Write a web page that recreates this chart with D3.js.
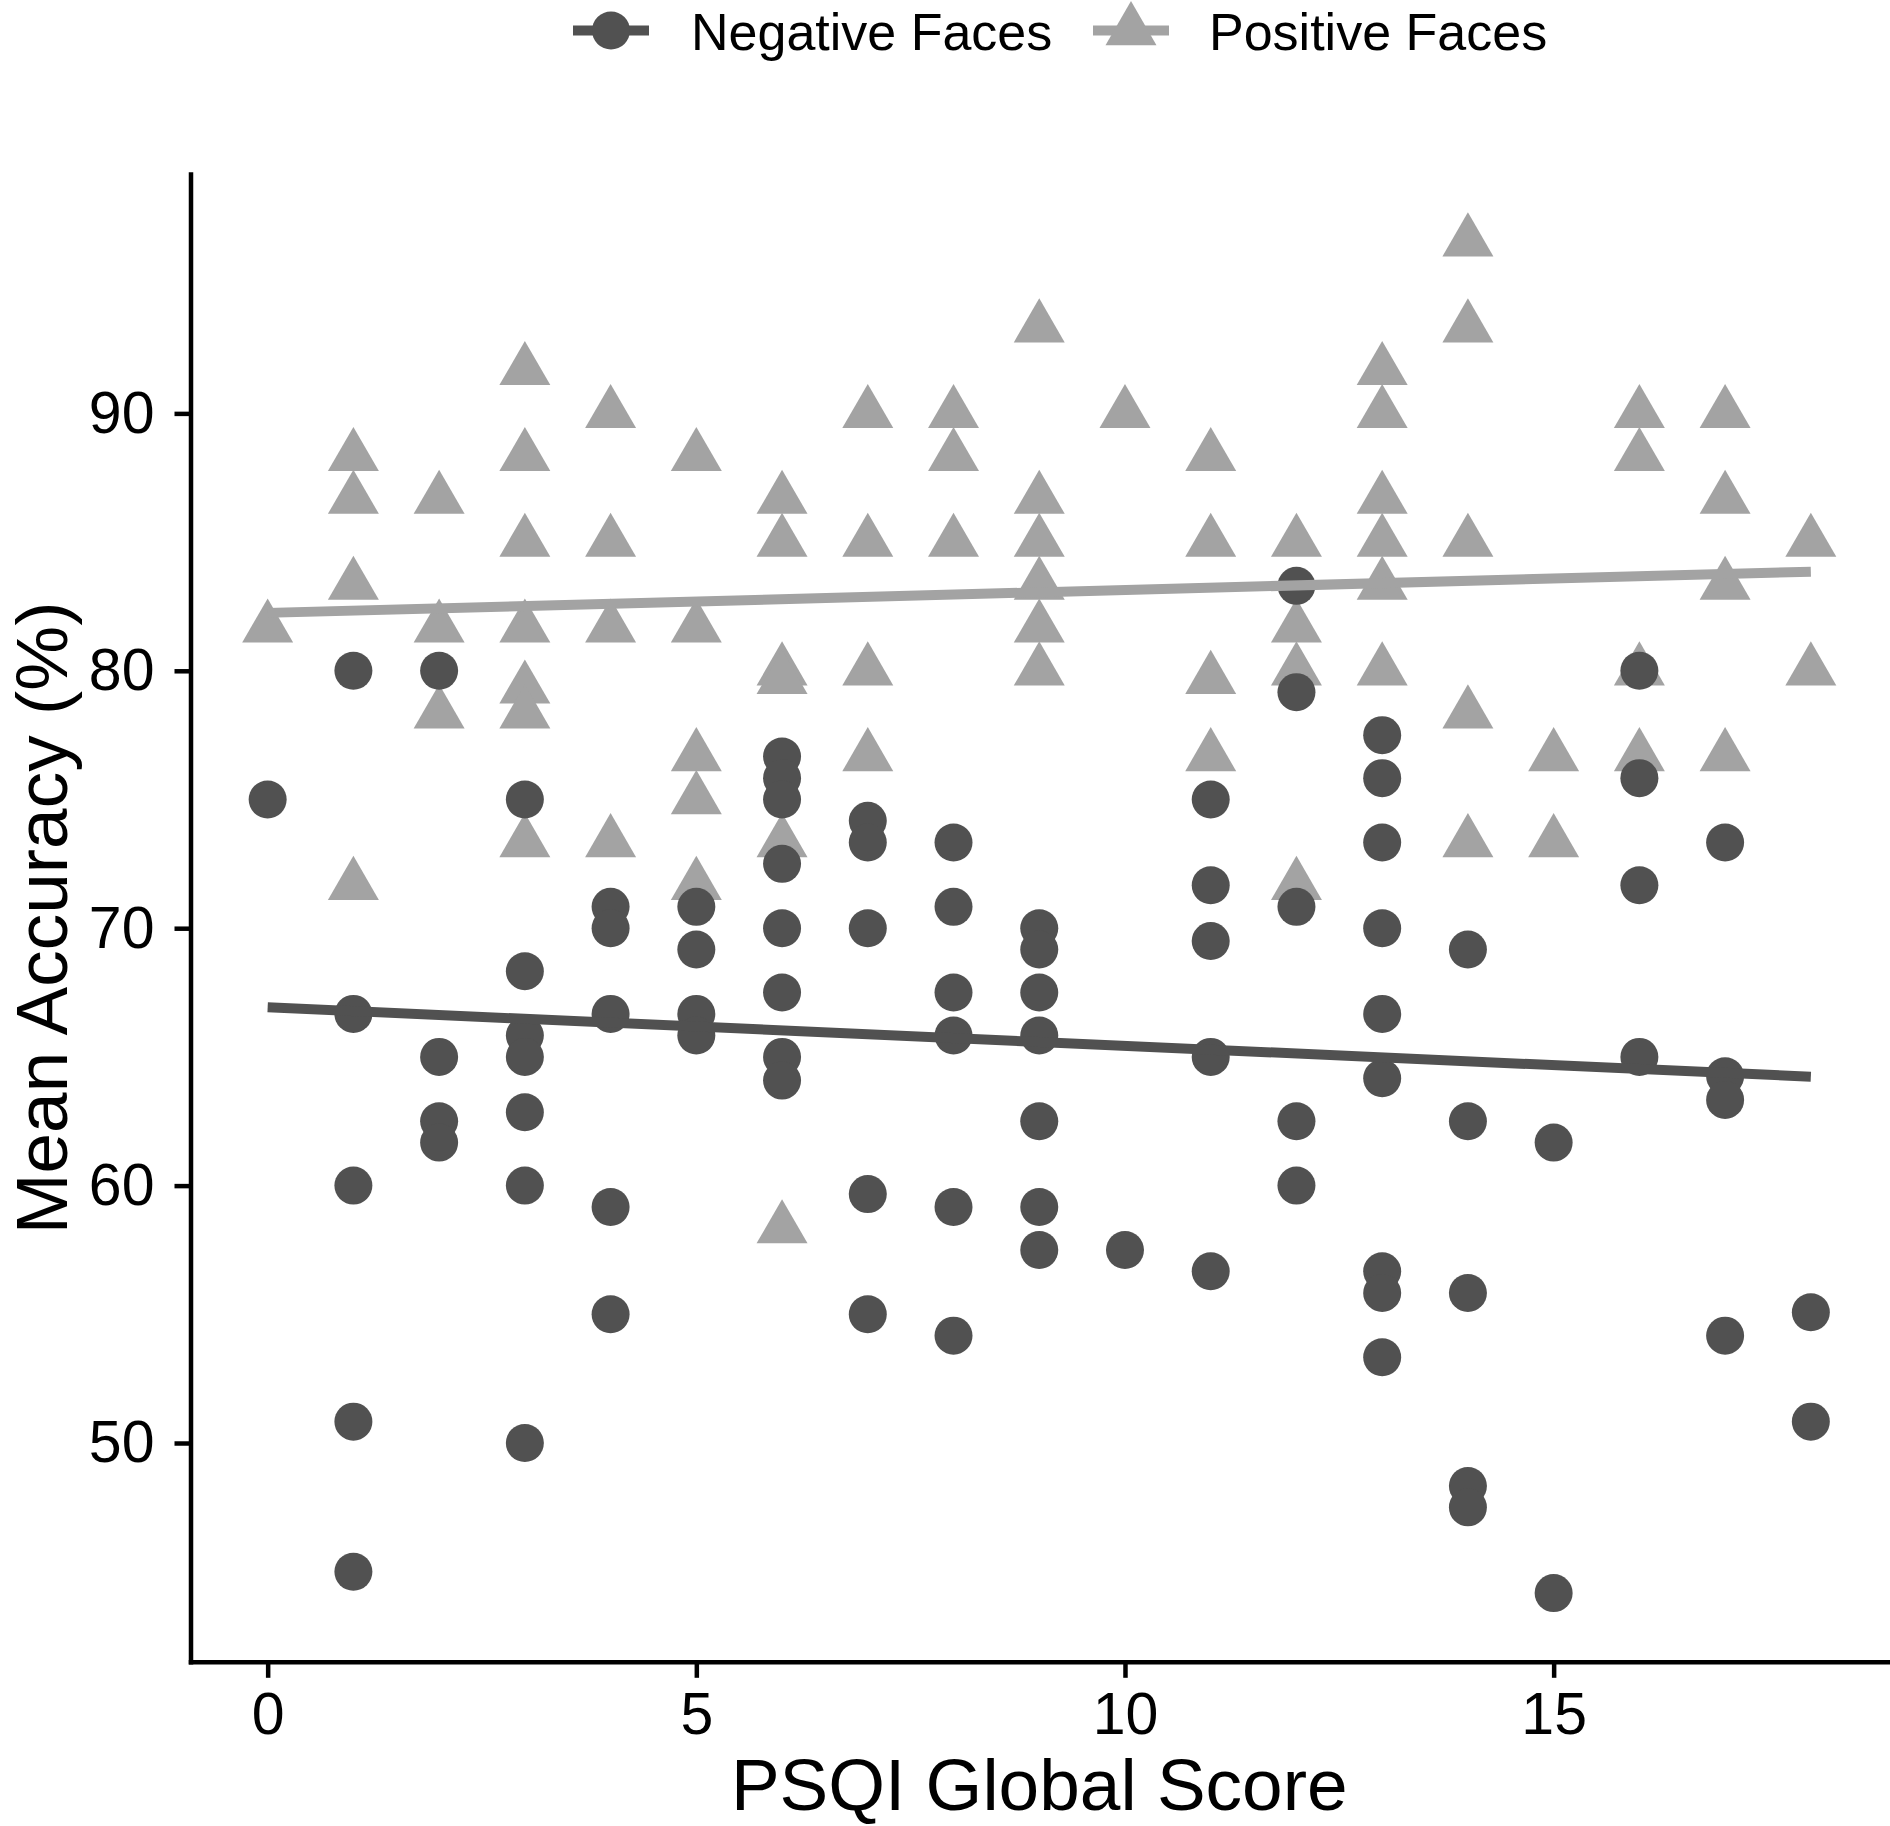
<!DOCTYPE html>
<html>
<head>
<meta charset="utf-8">
<script src="https://cdn.jsdelivr.net/npm/d3@7"></script>
<style>
  html, body { margin: 0; padding: 0; background: #ffffff; }
  svg { display: block; }
  text { font-family: "Liberation Sans", Arial, Helvetica, sans-serif; }
</style>
</head>
<body>
<svg id="chart" width="1890" height="1826"></svg>
<script>
// ---- Data ----
const seriesNames = ["Negative Faces", "Positive Faces"];

// Negative faces (circles): PSQI score and mean accuracy
const negScore = [
  0,
  1, 1, 1, 1, 1,
  2, 2, 2, 2,
  3, 3, 3, 3, 3, 3, 3,
  4, 4, 4, 4, 4,
  5, 5, 5, 5,
  6, 6, 6, 6, 6, 6, 6, 6,
  7, 7, 7, 7, 7,
  8, 8, 8, 8, 8, 8,
  9, 9, 9, 9, 9, 9, 9,
  10,
  11, 11, 11, 11, 11,
  12, 12, 12, 12, 12,
  13, 13, 13, 13, 13, 13, 13, 13, 13,
  14, 14, 14, 14, 14,
  15, 15,
  16, 16, 16, 16,
  17, 17, 17, 17,
  18, 18
];
const negAcc = [
  75,
  80, 66.67, 60, 50.83, 45,
  80, 65, 62.5, 61.67,
  75, 68.33, 65.83, 65, 62.85, 60, 50,
  70.83, 70, 66.67, 59.17, 55,
  70.83, 69.17, 66.67, 65.83,
  76.67, 75.83, 75, 72.5, 70, 67.5, 65, 64.08,
  74.17, 73.33, 70, 59.67, 55,
  73.33, 70.83, 67.5, 65.83, 59.17, 54.17,
  70, 69.17, 67.5, 65.83, 62.5, 59.17, 57.5,
  57.5,
  75, 71.67, 69.5, 65, 56.67,
  83.3, 79.17, 70.83, 62.5, 60,
  77.5, 75.83, 73.33, 70, 66.67, 64.17, 56.67, 55.83, 53.33,
  69.17, 62.5, 55.83, 48.33, 47.5,
  61.67, 44.17,
  80, 75.83, 71.67, 65,
  73.33, 64.25, 63.33, 54.17,
  55.08, 50.83
];

// Positive faces (triangles): PSQI score and mean accuracy
const posScore = [
  0,
  1, 1, 1, 1,
  2, 2, 2,
  3, 3, 3, 3, 3, 3, 3,
  4, 4, 4, 4,
  5, 5, 5, 5, 5,
  6, 6, 6, 6, 6, 6,
  7, 7, 7, 7,
  8, 8, 8,
  9, 9, 9, 9, 9, 9,
  10,
  11, 11, 11, 11,
  12, 12, 12, 12,
  13, 13, 13, 13, 13, 13,
  14, 14, 14, 14, 14,
  15, 15,
  16, 16, 16, 16,
  17, 17, 17, 17,
  18, 18
];
const posAcc = [
  81.67,
  88.33, 86.67, 83.33, 71.67,
  86.67, 81.67, 78.33,
  91.67, 88.33, 85, 81.67, 79.3, 78.33, 73.33,
  90, 85, 81.67, 73.33,
  88.33, 81.67, 76.67, 75, 71.67,
  86.67, 85, 80, 79.67, 73.33, 58.33,
  90, 85, 80, 76.67,
  90, 88.33, 85,
  93.33, 86.67, 85, 83.33, 81.67, 80,
  90,
  88.33, 85, 79.67, 76.67,
  85, 81.67, 80, 71.67,
  91.67, 90, 86.67, 85, 83.33, 80,
  96.67, 93.33, 85, 78.33, 73.33,
  76.67, 73.33,
  90, 88.33, 80, 76.67,
  90, 86.67, 83.33, 76.67,
  85, 80
];

// Fitted linear trend lines (endpoints)
const negFitX = [0, 18];
const negFitY = [66.93, 64.23];
const posFitX = [0, 18];
const posFitY = [82.25, 83.85];

// Axis ticks
const xTicks = [0, 5, 10, 15];
const yTicks = [50, 60, 70, 80, 90];

// ---- Styling ----
const darkCol = "#515151";
const lightCol = "#a3a3a3";
const fontTick = 59;
const fontTitle = 73;
const fontLegend = 52;

const svg = d3.select("#chart");

const x = d3.scaleLinear().domain([-0.9, 18.9]).range([190.5, 1888]);
const y = d3.scaleLinear().domain([41.5, 99.3]).range([1661.8, 174]);

const negData = negScore.map((s, i) => ({ x: s, y: negAcc[i] }));
const posData = posScore.map((s, i) => ({ x: s, y: posAcc[i] }));

const triSize = 1125;   // area for d3.symbolTriangle
const circR = 19;

// Triangles first (positive), then circles (negative)
svg.append("g").selectAll("path")
  .data(posData).join("path")
  .attr("transform", d => `translate(${x(d.x)},${y(d.y)})`)
  .attr("d", d3.symbol(d3.symbolTriangle, triSize)())
  .attr("fill", lightCol);

svg.append("g").selectAll("circle")
  .data(negData).join("circle")
  .attr("cx", d => x(d.x))
  .attr("cy", d => y(d.y))
  .attr("r", circR)
  .attr("fill", darkCol);

// Trend lines
const line = d3.line().x(d => x(d[0])).y(d => y(d[1]));
svg.append("path")
  .attr("d", line(posFitX.map((v, i) => [v, posFitY[i]])))
  .attr("stroke", lightCol).attr("stroke-width", 10).attr("fill", "none");
svg.append("path")
  .attr("d", line(negFitX.map((v, i) => [v, negFitY[i]])))
  .attr("stroke", darkCol).attr("stroke-width", 10).attr("fill", "none");

// Axes
const xAxis = d3.axisBottom(x).tickValues(xTicks).tickSize(16).tickSizeOuter(0).tickPadding(14);
const yAxis = d3.axisLeft(y).tickValues(yTicks).tickSize(16).tickSizeOuter(0).tickPadding(20);

const gx = svg.append("g").attr("transform", `translate(0,${y.range()[0]})`).call(xAxis);
const gy = svg.append("g").attr("transform", `translate(${x.range()[0]},0)`).call(yAxis);

[gx, gy].forEach(g => {
  g.select(".domain").attr("stroke", "#000").attr("stroke-width", 4.5).attr("stroke-linecap", "square");
  g.selectAll(".tick line").attr("stroke", "#000").attr("stroke-width", 4.5);
  g.selectAll(".tick text")
    .attr("fill", "#000")
    .style("font-size", fontTick + "px")
    .style("font-family", '"Liberation Sans", Arial, sans-serif');
});

// Axis titles
svg.append("text")
  .attr("x", (x.range()[0] + x.range()[1]) / 2)
  .attr("y", 1810)
  .attr("text-anchor", "middle")
  .style("font-size", fontTitle + "px")
  .text("PSQI Global Score");

svg.append("text")
  .attr("transform", `translate(67,${(y.range()[0] + y.range()[1]) / 2}) rotate(-90)`)
  .attr("text-anchor", "middle")
  .style("font-size", fontTitle + "px")
  .text("Mean Accuracy (%)");

// Legend
const legend = svg.append("g");
const legendItems = [
  { name: seriesNames[0], col: darkCol, shape: "circle", kx: 611, tx: 691 },
  { name: seriesNames[1], col: lightCol, shape: "triangle", kx: 1131, tx: 1209 }
];
const ly = 30.5;
legendItems.forEach(it => {
  legend.append("line")
    .attr("x1", it.kx - 38).attr("x2", it.kx + 38)
    .attr("y1", ly).attr("y2", ly)
    .attr("stroke", it.col).attr("stroke-width", 10);
  if (it.shape === "circle") {
    legend.append("circle").attr("cx", it.kx).attr("cy", ly).attr("r", circR).attr("fill", it.col);
  } else {
    legend.append("path")
      .attr("transform", `translate(${it.kx},${ly})`)
      .attr("d", d3.symbol(d3.symbolTriangle, triSize)())
      .attr("fill", it.col);
  }
  legend.append("text")
    .attr("x", it.tx).attr("y", 50)
    .style("font-size", fontLegend + "px")
    .attr("fill", "#000")
    .text(it.name);
});
</script>
</body>
</html>
